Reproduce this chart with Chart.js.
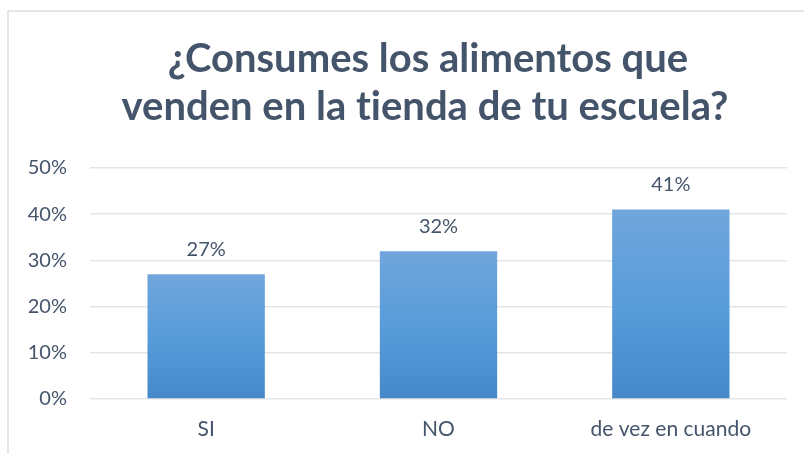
<!DOCTYPE html>
<html>
<head>
<meta charset="utf-8">
<script src="https://cdn.jsdelivr.net/npm/chart.js@4"></script>
<style>
  html, body { margin: 0; padding: 0; background: #ffffff; }
  #wrap { position: relative; width: 804px; height: 454px; overflow: hidden; }
  #frame { position: absolute; left: 7px; top: 10px; width: 820px; height: 470px; border: 2px solid #E3E6EB; box-sizing: border-box; }
  canvas { position: absolute; left: 0; top: 0; }
</style>
</head>
<body>
<div id="wrap">
  <div id="frame"></div>
  <canvas id="c" width="804" height="454"></canvas>
</div>
<script>
const titleLines = ["¿Consumes los alimentos que", "venden en la t\u200Cienda de tu escuela?"];
const categories = ["SI", "NO", "de vez en cuando"];
const values = [27, 32, 41];
const yTicks = [0, 10, 20, 30, 40, 50];

const textColor = "#44546A";

const barGradient = (ctx) => {
  const chart = ctx.chart;
  const area = chart.chartArea;
  if (!area || ctx.raw === undefined) return "#5B9BD5";
  const y = chart.scales.y;
  const top = y.getPixelForValue(ctx.raw);
  const bottom = y.getPixelForValue(0);
  const g = chart.ctx.createLinearGradient(0, top, 0, bottom);
  g.addColorStop(0, "#70A6DC");
  g.addColorStop(0.5, "#589CDA");
  g.addColorStop(1, "#4589CB");
  return g;
};

const titleDraw = {
  id: "titleDraw",
  afterDraw(chart) {
    const ctx = chart.ctx;
    ctx.save();
    ctx.fillStyle = textColor;
    ctx.font = "bold 40px Lato";
    ctx.textAlign = "center";
    ctx.textBaseline = "alphabetic";
    ctx.fillText(titleLines[0], 428, 72);
    ctx.fillText(titleLines[1], 425, 120);
    ctx.restore();
  }
};

const valueLabels = {
  id: "valueLabels",
  afterDatasetsDraw(chart) {
    const ctx = chart.ctx;
    const meta = chart.getDatasetMeta(0);
    ctx.save();
    ctx.fillStyle = textColor;
    ctx.font = "20px Lato";
    ctx.textAlign = "center";
    ctx.textBaseline = "middle";
    meta.data.forEach((el, i) => {
      ctx.fillText(values[i] + "%", el.x, el.y - 25);
    });
    ctx.restore();
  }
};

new Chart(document.getElementById("c"), {
  type: "bar",
  data: {
    labels: categories,
    datasets: [{
      data: values,
      backgroundColor: barGradient,
      borderWidth: 0,
      categoryPercentage: 1.0,
      barPercentage: 0.505
    }]
  },
  options: {
    responsive: false,
    animation: false,
    layout: { padding: { left: 0, right: 17, top: 168, bottom: 10 } },
    plugins: {
      legend: { display: false },
      tooltip: { enabled: false },
      title: { display: false }
    },
    scales: {
      x: {
        grid: { display: false },
        border: { display: false },
        ticks: { color: textColor, font: { family: "Lato", size: 21 }, padding: 10 },
        afterFit: (s) => { s.height = 45; }
      },
      y: {
        min: 0,
        max: 50,
        afterBuildTicks: (s) => { s.ticks = yTicks.map(v => ({ value: v })); },
        grid: { color: "#E2E5EA", lineWidth: 1.5, drawTicks: false },
        border: { display: false },
        ticks: {
          color: textColor,
          font: { family: "Lato", size: 20 },
          padding: 23,
          callback: (v) => v + "%"
        },
        afterFit: (s) => { s.width = 90; }
      }
    }
  },
  plugins: [valueLabels, titleDraw]
});
</script>
</body>
</html>
